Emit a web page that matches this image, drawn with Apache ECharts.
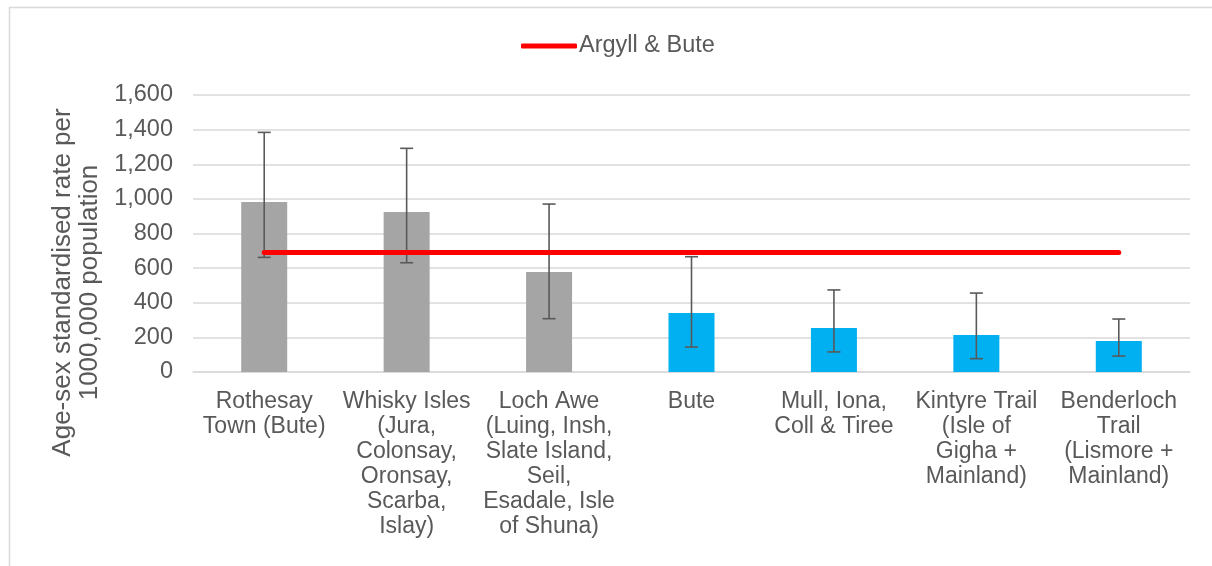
<!DOCTYPE html>
<html>
<head>
<meta charset="utf-8">
<title>Argyll & Bute</title>
<script src="https://cdn.jsdelivr.net/npm/echarts@6/dist/echarts.min.js"></script>
<style>
  html, body { margin: 0; padding: 0; background: #fff; }
  #chart { width: 1212px; height: 566px; }
</style>
</head>
<body>
<div id="chart"></div>
<script>
var categories = [
  'Rothesay\nTown (Bute)',
  'Whisky Isles\n(Jura,\nColonsay,\nOronsay,\nScarba,\nIslay)',
  'Loch Awe\n(Luing, Insh,\nSlate Island,\nSeil,\nEsadale, Isle\nof Shuna)',
  'Bute',
  'Mull, Iona,\nColl & Tiree',
  'Kintyre Trail\n(Isle of\nGigha +\nMainland)',
  'Benderloch\nTrail\n(Lismore +\nMainland)'
];
var rates = [982, 924, 578, 341, 254, 214, 179];
var lowerCI = [662, 631, 308, 144, 116, 77, 92];
var upperCI = [1384, 1292, 970, 666, 474, 456, 306];
var argyllBute = [690, 690, 690, 690, 690, 690, 690];
var yTicks = [0, 200, 400, 600, 800, 1000, 1200, 1400, 1600];

var errData = categories.map(function (c, i) { return [i, lowerCI[i], upperCI[i]]; });

var chart = echarts.init(document.getElementById('chart'));
var font = '"Liberation Sans", Arial, sans-serif';

chart.setOption({
  animation: false,
  textStyle: { fontFamily: font },
  graphic: [{
    type: 'rect',
    shape: { x: 9.5, y: 7.5, width: 1220, height: 600 },
    style: { fill: 'none', stroke: '#d9d9d9', lineWidth: 1.5 },
    silent: true
  }],
  legend: {
    data: [{ name: 'Argyll & Bute', icon: 'roundRect' }],
    left: 516,
    top: 29,
    itemWidth: 56,
    itemHeight: 5,
    itemGap: 4,
    textStyle: { fontSize: 23.5, color: '#595959', fontFamily: font, padding: [0, 0, 0, -3] }
  },
  grid: { left: 193, right: 22, top: 95, bottom: 194 },
  xAxis: {
    type: 'category',
    data: categories,
    axisLine: { show: true, lineStyle: { color: '#d9d9d9', width: 1.5 } },
    axisTick: { show: false },
    axisLabel: {
      interval: 0,
      fontSize: 23,
      color: '#595959',
      lineHeight: 25,
      margin: 17,
      fontFamily: font
    }
  },
  yAxis: {
    type: 'value',
    min: yTicks[0],
    max: yTicks[yTicks.length - 1],
    interval: 200,
    name: 'Age-sex standardised rate per\n1000,000 population',
    nameLocation: 'middle',
    nameGap: 85,
    nameTextStyle: {
      fontSize: 26,
      color: '#595959',
      lineHeight: 27,
      fontFamily: font,
      padding: [0, 98, 0, 0]
    },
    axisLine: { show: false },
    axisTick: { show: false },
    splitLine: { lineStyle: { color: '#d9d9d9', width: 1.5 } },
    axisLabel: {
      fontSize: 23.5,
      color: '#595959',
      margin: 20,
      fontFamily: font,
      formatter: function (v) { return v.toLocaleString('en-US'); }
    }
  },
  series: [
    {
      name: 'Rate',
      type: 'bar',
      data: rates,
      barWidth: 46,
      itemStyle: {
        color: function (p) { return p.dataIndex < 3 ? '#A5A5A5' : '#00B0F0'; }
      },
      z: 2
    },
    {
      name: 'CI',
      type: 'custom',
      data: errData,
      z: 4,
      renderItem: function (params, api) {
        var x = api.value(0);
        var lo = api.coord([x, api.value(1)]);
        var hi = api.coord([x, api.value(2)]);
        var cap = 6.5;
        var st = { stroke: '#595959', lineWidth: 1.6 };
        return {
          type: 'group',
          children: [
            { type: 'line', shape: { x1: lo[0], y1: lo[1], x2: hi[0], y2: hi[1] }, style: st },
            { type: 'line', shape: { x1: hi[0] - cap, y1: hi[1], x2: hi[0] + cap, y2: hi[1] }, style: st },
            { type: 'line', shape: { x1: lo[0] - cap, y1: lo[1], x2: lo[0] + cap, y2: lo[1] }, style: st }
          ]
        };
      }
    },
    {
      name: 'Argyll & Bute',
      type: 'line',
      data: argyllBute,
      showSymbol: false,
      symbol: 'none',
      lineStyle: { color: '#FF0000', width: 5, cap: 'round' },
      itemStyle: { color: '#FF0000' },
      z: 5
    }
  ]
});
</script>
</body>
</html>
